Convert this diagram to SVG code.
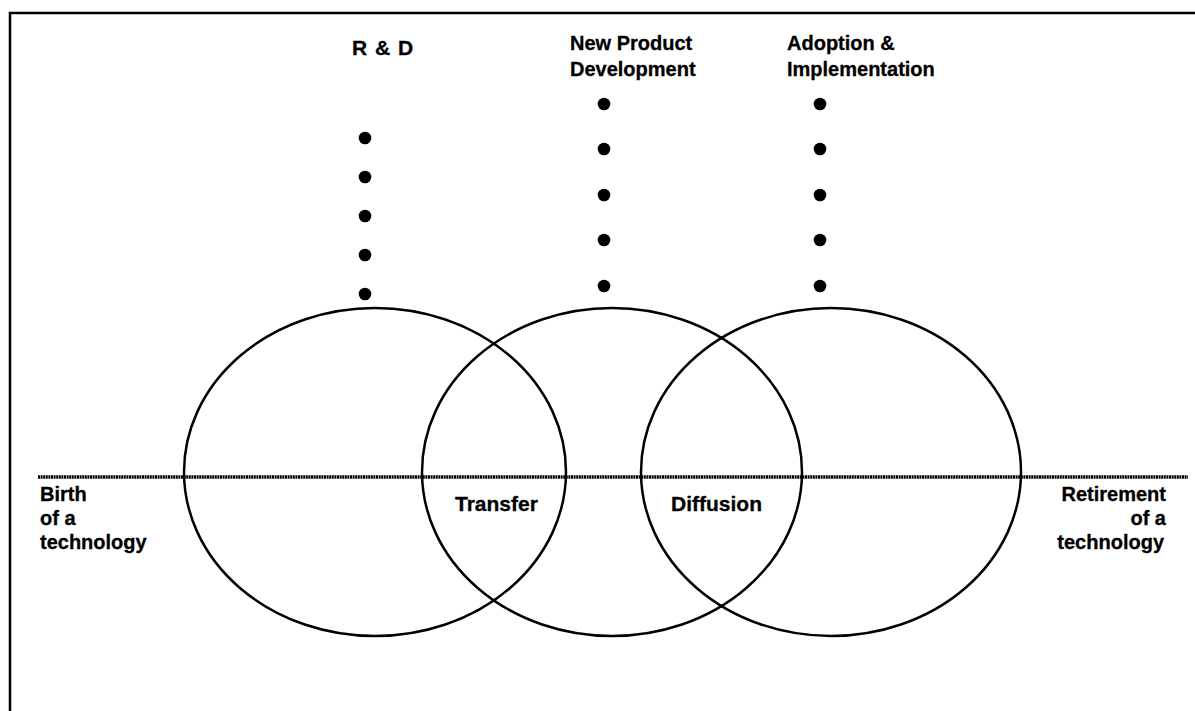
<svg xmlns="http://www.w3.org/2000/svg" width="1195" height="711" viewBox="0 0 1195 711">
<style>
  .lbl { font-family: "Liberation Sans", Arial, Helvetica, sans-serif; font-weight: bold; font-size: 20px; fill: #000; stroke: #000; stroke-width: 0.3; }
  .mid { font-size: 21px; }
  .ring { fill: none; stroke: #000; stroke-width: 2.5; }
  .dot { fill: #000; }
  .frame { fill: none; stroke: #000; stroke-width: 2.5; }
</style>
<rect width="1195" height="711" fill="#fff"/>
<g id="frame">
  <path class="frame" d="M10,711 L10,13 L1195,13"/>
</g>
<g id="connectors">
  <line x1="38" y1="477" x2="1188" y2="477" stroke="#000" stroke-width="3.5" stroke-dasharray="2 0.6"/>
</g>
<g id="rnd">
  <ellipse class="ring" cx="375" cy="472" rx="191" ry="164"/>
  <text class="lbl mid" x="352" y="55" word-spacing="2">R &amp; D</text>
  <circle class="dot" cx="365" cy="138" r="6.3"/>
  <circle class="dot" cx="365" cy="177" r="6.3"/>
  <circle class="dot" cx="365" cy="216" r="6.3"/>
  <circle class="dot" cx="365" cy="255" r="6.3"/>
  <circle class="dot" cx="365" cy="294" r="6.3"/>
</g>
<g id="npd">
  <ellipse class="ring" cx="612" cy="472" rx="190" ry="164"/>
  <text class="lbl" x="570" y="50">New Product</text>
  <text class="lbl" x="570" y="76">Development</text>
  <circle class="dot" cx="604" cy="104" r="6.3"/>
  <circle class="dot" cx="604" cy="149" r="6.3"/>
  <circle class="dot" cx="604" cy="195" r="6.3"/>
  <circle class="dot" cx="604" cy="240" r="6.3"/>
  <circle class="dot" cx="604" cy="286" r="6.3"/>
</g>
<g id="adoption">
  <ellipse class="ring" cx="831" cy="472" rx="190" ry="164"/>
  <text class="lbl" x="787" y="50">Adoption &amp;</text>
  <text class="lbl" x="787" y="76">Implementation</text>
  <circle class="dot" cx="820" cy="104" r="6.3"/>
  <circle class="dot" cx="820" cy="149" r="6.3"/>
  <circle class="dot" cx="820" cy="195" r="6.3"/>
  <circle class="dot" cx="820" cy="240" r="6.3"/>
  <circle class="dot" cx="820" cy="286" r="6.3"/>
</g>
<g id="birth">
  <text class="lbl" x="40" y="501">Birth</text>
  <text class="lbl" x="40" y="525">of a</text>
  <text class="lbl" x="40" y="549">technology</text>
</g>
<g id="retirement">
  <text class="lbl" x="1166" y="501" text-anchor="end">Retirement</text>
  <text class="lbl" x="1166" y="525" text-anchor="end">of a</text>
  <text class="lbl" x="1164" y="549" text-anchor="end">technology</text>
</g>
<g id="transfer">
  <text class="lbl mid" x="455" y="511">Transfer</text>
</g>
<g id="diffusion">
  <text class="lbl mid" x="671" y="511">Diffusion</text>
</g>
</svg>
